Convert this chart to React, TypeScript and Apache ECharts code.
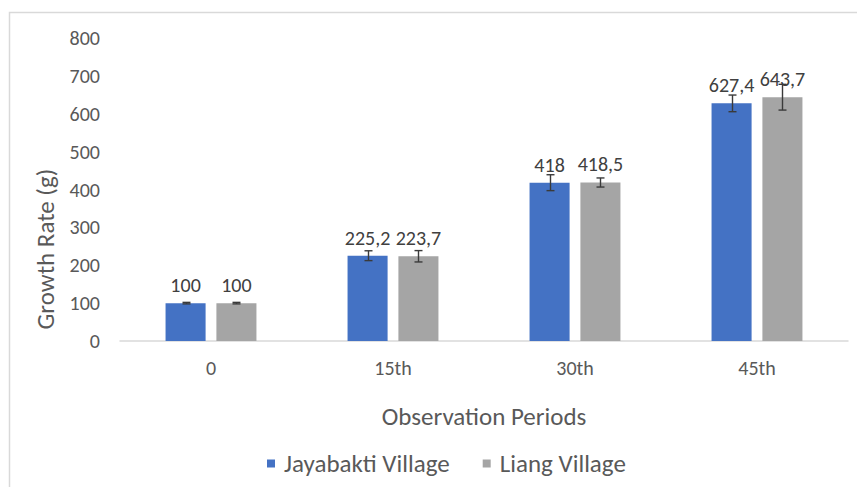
import React, { useEffect, useRef } from "react";
import * as echarts from "echarts";

const categories = ["0", "15th", "30th", "45th"];
const jayabakti = [100, 225.2, 418, 627.4];
const liang = [100, 223.7, 418.5, 643.7];
const jayabaktiErr = [2, 13, 21, 22];
const liangErr = [2, 15, 12, 34];
const yTicks = [0, 100, 200, 300, 400, 500, 600, 700, 800];
const yTitle = "Growth Rate (g)";
const xTitle = "Observation Periods";

const BAR_W = 0.22;
const BAR_GAP = 0.27;

function errorSeries(values: number[], errs: number[], sign: number) {
  return {
    type: "custom",
    silent: true,
    z: 10,
    data: values.map((v, i) => [i, v - errs[i], v + errs[i]]),
    renderItem: (params: any, api: any) => {
      const idx = api.value(0);
      const lo = api.coord([idx, api.value(1)]);
      const hi = api.coord([idx, api.value(2)]);
      const cw = api.size([1, 0])[0];
      const off = (sign * cw * (BAR_W + BAR_W * BAR_GAP)) / 2;
      const x = Math.round(lo[0] + off) + 0.5;
      const cap = 4;
      const style = { stroke: "#3a3a3a", lineWidth: 1.4 };
      return {
        type: "group",
        children: [
          { type: "line", shape: { x1: x, y1: lo[1], x2: x, y2: hi[1] }, style },
          { type: "line", shape: { x1: x - cap, y1: lo[1], x2: x + cap, y2: lo[1] }, style },
          { type: "line", shape: { x1: x - cap, y1: hi[1], x2: x + cap, y2: hi[1] }, style },
        ],
      };
    },
  };
}

const fmt = (p: any) => String(p.value).replace(".", ",");

export default function App() {
  const ref = useRef<HTMLDivElement>(null);
  useEffect(() => {
    if (!ref.current) return;
    const chart = echarts.init(ref.current, undefined, { renderer: "svg" });
    const font = "Carlito, Calibri, Lato, sans-serif";
    const labelStyle = {
      show: true,
      position: "top",
      distance: 8,
      fontSize: 20,
      color: "#404040",
      fontFamily: font,
      formatter: fmt,
    };
    chart.setOption({
      animation: false,
      backgroundColor: "#ffffff",
      textStyle: { fontFamily: font },
      graphic: [
        {
          type: "rect",
          shape: { x: 9.5, y: 12.5, width: 900, height: 500 },
          style: { fill: "none", stroke: "#d9d9d9", lineWidth: 1.5 },
          silent: true,
        },
        {
          type: "text",
          x: 45,
          y: 249,
          rotation: Math.PI / 2,
          silent: true,
          style: {
            text: yTitle,
            fontSize: 25,
            fontFamily: font,
            fill: "#595959",
            align: "center",
            verticalAlign: "middle",
          },
        },
      ],
      legend: {
        data: ["Jayabakti Village", "Liang Village"],
        top: 446,
        left: 262,
        itemWidth: 8,
        itemHeight: 8,
        itemGap: 33,
        icon: "rect",
        textStyle: {
          fontSize: 25,
          color: "#595959",
          fontFamily: font,
          padding: [0, 0, 0, 4],
        },
      },
      grid: { left: 120, right: 9, top: 38, bottom: 146, containLabel: false },
      xAxis: {
        type: "category",
        data: categories,
        name: xTitle,
        nameLocation: "middle",
        nameGap: 63,
        nameTextStyle: { fontSize: 25, color: "#595959", fontFamily: font },
        axisLine: { lineStyle: { color: "#d9d9d9", width: 1.5 } },
        axisTick: { show: false },
        axisLabel: { fontSize: 20, color: "#595959", margin: 17, fontFamily: font },
      },
      yAxis: {
        type: "value",
        min: yTicks[0],
        max: yTicks[yTicks.length - 1],
        interval: 100,
        axisLine: { show: false },
        axisTick: { show: false },
        splitLine: { show: false },
        axisLabel: { fontSize: 20, color: "#595959", margin: 20, fontFamily: font },
      },
      series: [
        {
          name: "Jayabakti Village",
          type: "bar",
          data: jayabakti,
          barWidth: BAR_W * 100 + "%",
          barGap: BAR_GAP * 100 + "%",
          itemStyle: { color: "#4472C4" },
          label: labelStyle,
        },
        {
          name: "Liang Village",
          type: "bar",
          data: liang,
          barWidth: BAR_W * 100 + "%",
          barGap: BAR_GAP * 100 + "%",
          itemStyle: { color: "#A5A5A5" },
          label: labelStyle,
        },
        errorSeries(jayabakti, jayabaktiErr, -1),
        errorSeries(liang, liangErr, 1),
      ],
    });
    return () => chart.dispose();
  }, []);
  return (
    <div
      ref={ref}
      style={{ position: "absolute", left: 0, top: 0, width: 857, height: 487 }}
    />
  );
}
